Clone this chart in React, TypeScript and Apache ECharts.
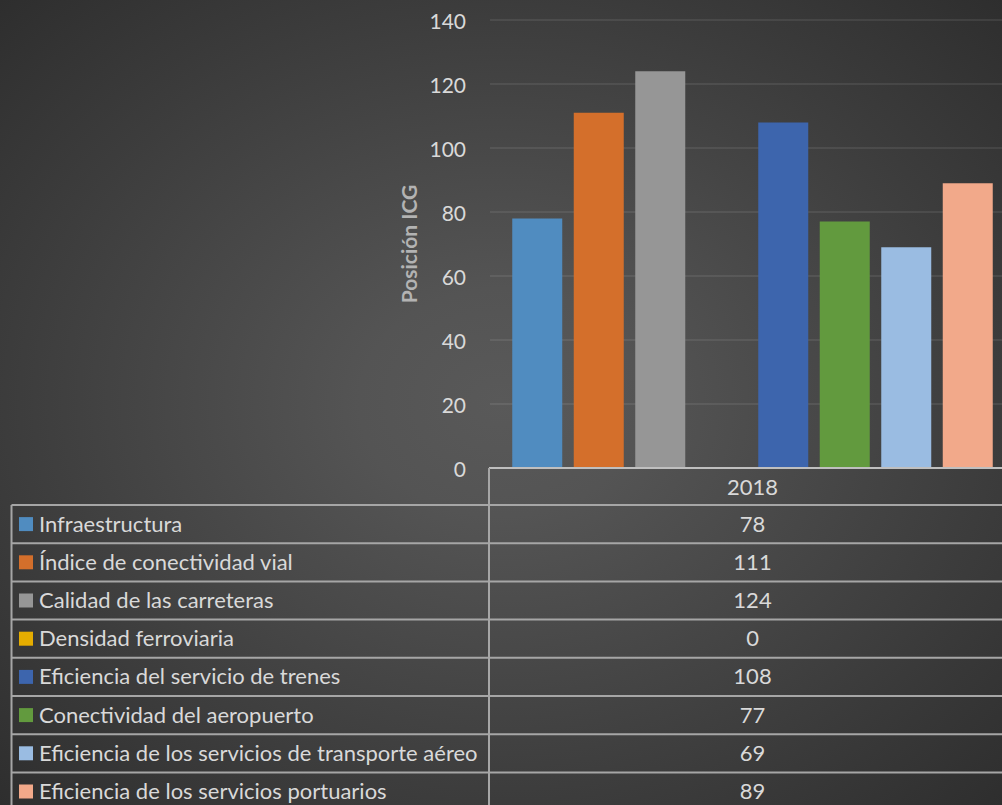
import React, { useEffect, useRef } from "react";
import * as echarts from "echarts";

const categories = ["2018"];
const seriesNames = [
  "Infraestructura",
  "Índice de conectividad vial",
  "Calidad de las carreteras",
  "Densidad ferroviaria",
  "Eficiencia del servicio de trenes",
  "Conectividad del aeropuerto",
  "Eficiencia de los servicios de transporte aéreo",
  "Eficiencia de los servicios portuarios",
];
const seriesValues = [78, 111, 124, 0, 108, 77, 69, 89];
const seriesColors = [
  "#508cc0",
  "#d46f2b",
  "#969696",
  "#e5ad00",
  "#3d65ad",
  "#629a3e",
  "#9abce2",
  "#f2a98a",
];
const yMin = 0;
const yMax = 140;
const yInterval = 20;
const axisTitle = "Posición ICG";

export default function App() {
  const ref = useRef<HTMLDivElement>(null);

  useEffect(() => {
    document.body.style.margin = "0";
    document.body.style.background = "#333";
    const chart = echarts.init(ref.current!, null, { renderer: "svg" });

    const font = "Lato, 'Open Sans', sans-serif";
    const textColor = "#d9d9d9";
    const lineColor = "#a6a6a6";
    const plotLeft = 490;
    const plotTop = 20;
    const plotWidth = 525;
    const plotHeight = 448;
    const headerTop = plotTop + plotHeight;
    const firstRowTop = 505;
    const rowH = 38.2;
    const tableLeft = 11.5;
    const tableRight = plotLeft + plotWidth;
    const colCenter = plotLeft + plotWidth / 2;
    const nRows = seriesNames.length;
    const tableBottom = firstRowTop + rowH * nRows;

    const graphics: any[] = [];
    graphics.push({
      type: "line",
      shape: { x1: plotLeft - 1, y1: headerTop, x2: tableRight, y2: headerTop },
      style: { stroke: "#bfbfbf", lineWidth: 2 },
      z: 10,
    });
    for (let i = 0; i <= nRows; i++) {
      const y = firstRowTop + rowH * i;
      graphics.push({
        type: "line",
        shape: { x1: tableLeft, y1: y, x2: tableRight, y2: y },
        style: { stroke: lineColor, lineWidth: 2 },
        z: 10,
      });
    }
    graphics.push({
      type: "line",
      shape: { x1: tableLeft, y1: firstRowTop, x2: tableLeft, y2: tableBottom },
      style: { stroke: lineColor, lineWidth: 2 },
      z: 10,
    });
    graphics.push({
      type: "line",
      shape: { x1: plotLeft - 1, y1: headerTop, x2: plotLeft - 1, y2: tableBottom },
      style: { stroke: lineColor, lineWidth: 2 },
      z: 10,
    });
    seriesNames.forEach((name, i) => {
      const cy = firstRowTop + rowH * i + rowH / 2;
      graphics.push({
        type: "rect",
        shape: { x: 19, y: cy - 7, width: 14, height: 14 },
        style: { fill: seriesColors[i] },
        z: 10,
      });
      graphics.push({
        type: "text",
        x: 39,
        y: cy - 1,
        style: {
          text: name,
          fill: textColor,
          fontSize: 22,
          fontFamily: font,
          align: "left",
          verticalAlign: "middle",
        },
        z: 10,
      });
      graphics.push({
        type: "text",
        x: colCenter,
        y: cy - 1,
        style: {
          text: String(seriesValues[i]),
          fill: textColor,
          fontSize: 22,
          fontFamily: font,
          align: "center",
          verticalAlign: "middle",
        },
        z: 10,
      });
    });

    chart.setOption({
      animation: false,
      backgroundColor: "transparent",
      grid: {
        left: plotLeft,
        top: plotTop,
        width: plotWidth,
        height: plotHeight,
        outerBoundsMode: "none",
        containLabel: false,
      },
      xAxis: {
        type: "category",
        data: categories,
        axisLine: { show: false },
        axisTick: { show: false },
        axisLabel: {
          color: textColor,
          fontSize: 22,
          fontFamily: font,
          margin: 7,
        },
      },
      yAxis: {
        type: "value",
        min: yMin,
        max: yMax,
        interval: yInterval,
        name: axisTitle,
        nameLocation: "middle",
        nameGap: 63,
        nameTextStyle: {
          color: "#b3b3b3",
          fontSize: 21,
          fontWeight: "bold",
          fontFamily: font,
        },
        axisLine: { show: false },
        axisTick: { show: false },
        axisLabel: { color: textColor, fontSize: 21, fontFamily: font, margin: 24 },
        splitLine: { lineStyle: { color: "rgba(255,255,255,0.08)", width: 2 } },
      },
      series: seriesNames.map((name, i) => ({
        type: "bar",
        name,
        data: [seriesValues[i]],
        barWidth: 50,
        barGap: "23%",
        itemStyle: { color: seriesColors[i] },
      })),
      graphic: graphics,
    });

    return () => chart.dispose();
  }, []);

  return (
    <div
      ref={ref}
      style={{
        width: 1002,
        height: 805,
        background:
          "radial-gradient(ellipse at 50% 50%, #595959 0%, #545454 20%, #3c3c3c 70%, #2e2e2e 100%)",
      }}
    />
  );
}
